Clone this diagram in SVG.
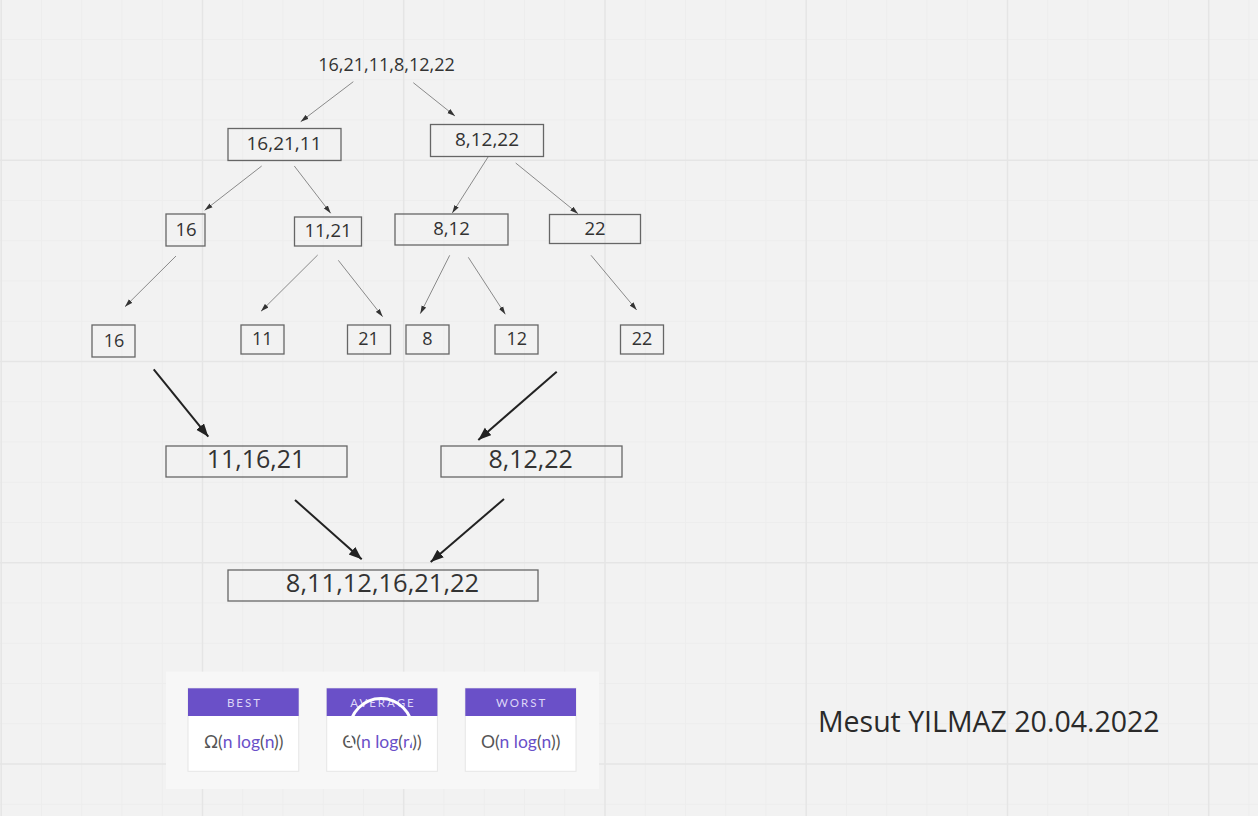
<svg xmlns="http://www.w3.org/2000/svg" width="1258" height="816" viewBox="0 0 1258 816">
<defs>
<style>
.bg{fill:#f2f2f2}
.gmin{stroke:#ededed;stroke-width:1;fill:none}
.gmaj{stroke:#e5e5e5;stroke-width:1.5;fill:none}
.box{fill:none;stroke:#666;stroke-width:1.3}
.t{font-family:"Open Sans","Noto Sans","DejaVu Sans",sans-serif;fill:#333;text-anchor:middle}
.thin{stroke:#8a8a8a;stroke-width:1;fill:none;marker-end:url(#ah)}
.thick{stroke:#222;stroke-width:2;fill:none;marker-end:url(#ahb)}
.hdr{fill:#6a50c8}
.card{fill:#fff;stroke:#e6e6e6;stroke-width:1}
.ht{font-family:Lato,"Open Sans",sans-serif;font-size:11.5px;fill:#ddd6f7;letter-spacing:2px;text-anchor:middle}
.ct{font-family:Lato,"Open Sans",sans-serif;font-size:17.5px;text-anchor:middle}
.g{fill:#555}
.p{fill:#6a50c8}
</style>
<marker id="ah" markerUnits="userSpaceOnUse" markerWidth="9" markerHeight="6" refX="8" refY="3" orient="auto"><path d="M0,0.5 L8,3 L0,5.5 z" fill="#333"/></marker>
<marker id="ahb" markerUnits="userSpaceOnUse" markerWidth="14" markerHeight="11" refX="13" refY="5" orient="auto"><path d="M0,0 L13,5 L0,10 z" fill="#222"/></marker>
</defs>
<rect class="bg" x="0" y="0" width="1258" height="816"/>
<g id="grid">
<path class="gmin" d="M41.5,0V816M81.7,0V816M122,0V816M162.2,0V816M242.7,0V816M283,0V816M323.2,0V816M363.5,0V816M444,0V816M484.2,0V816M524.5,0V816M564.7,0V816M645.2,0V816M685.5,0V816M725.7,0V816M766,0V816M846.5,0V816M886.7,0V816M927,0V816M967.2,0V816M1047.7,0V816M1088,0V816M1128.2,0V816M1168.5,0V816M1249,0V816"/>
<path class="gmin" d="M0,39.6H1258M0,79.8H1258M0,120H1258M0,200.6H1258M0,240.8H1258M0,281H1258M0,321.3H1258M0,401.8H1258M0,442H1258M0,482.3H1258M0,522.5H1258M0,603H1258M0,643.3H1258M0,683.5H1258M0,723.8H1258M0,804.3H1258"/>
<path class="gmaj" d="M1.2,0V816M202.5,0V816M403.7,0V816M605,0V816M806.2,0V816M1007.5,0V816M1208.7,0V816M0,160.3H1258M0,361.6H1258M0,562.8H1258M0,764H1258"/>
</g>
<g id="connectors">
<line class="thin" x1="353.3" y1="81.7" x2="300.7" y2="121.7"/>
<line class="thin" x1="413.3" y1="82.7" x2="455" y2="116"/>
<line class="thin" x1="261.7" y1="166" x2="204.7" y2="210.3"/>
<line class="thin" x1="294.3" y1="166" x2="330.7" y2="213.3"/>
<line class="thin" x1="488.7" y1="156" x2="452.3" y2="213"/>
<line class="thin" x1="515.7" y1="163" x2="578" y2="213.7"/>
<line class="thin" x1="176" y1="256" x2="125" y2="306.7"/>
<line class="thin" x1="317.7" y1="255" x2="261" y2="311.3"/>
<line class="thin" x1="338.3" y1="260.3" x2="382.7" y2="316.7"/>
<line class="thin" x1="449.7" y1="255.3" x2="420.3" y2="313.7"/>
<line class="thin" x1="468.3" y1="257.3" x2="505.3" y2="314.3"/>
<line class="thin" x1="591" y1="255.3" x2="636.7" y2="310"/>
<line class="thick" x1="153.7" y1="369.3" x2="208.3" y2="436.7"/>
<line class="thick" x1="556.7" y1="371.7" x2="478.3" y2="440"/>
<line class="thick" x1="295" y1="500" x2="361.7" y2="559.3"/>
<line class="thick" x1="504" y1="499" x2="430.7" y2="562"/>
</g>
<g id="n-root"><text class="t" x="386.5" y="70.5" font-size="18">16,21,11,8,12,22</text></g>
<g id="n-162111"><rect class="box" x="228" y="128.5" width="113" height="32"/><text class="t" x="284" y="150" font-size="19">16,21,11</text></g>
<g id="n-81222"><rect class="box" x="430.5" y="124.5" width="113" height="32"/><text class="t" x="487" y="146" font-size="19">8,12,22</text></g>
<g id="n-16a"><rect class="box" x="166" y="214" width="39" height="32"/><text class="t" x="186" y="235.7" font-size="18.5">16</text></g>
<g id="n-1121"><rect class="box" x="294.5" y="217" width="67" height="29"/><text class="t" x="328" y="236.5" font-size="18.5">11,21</text></g>
<g id="n-812"><rect class="box" x="395" y="214" width="113" height="31"/><text class="t" x="451.5" y="235.3" font-size="18.5">8,12</text></g>
<g id="n-22a"><rect class="box" x="549.5" y="214.5" width="91" height="29"/><text class="t" x="595" y="235" font-size="18.5">22</text></g>
<g id="n-16b"><rect class="box" x="92" y="325" width="43" height="32"/><text class="t" x="114" y="346.7" font-size="18">16</text></g>
<g id="n-11"><rect class="box" x="241" y="325" width="43" height="29"/><text class="t" x="262.3" y="345.3" font-size="18">11</text></g>
<g id="n-21"><rect class="box" x="347.5" y="325" width="43" height="29"/><text class="t" x="368.5" y="345.3" font-size="18">21</text></g>
<g id="n-8"><rect class="box" x="406" y="325" width="43" height="29"/><text class="t" x="427.5" y="345.3" font-size="18">8</text></g>
<g id="n-12"><rect class="box" x="495" y="325" width="43" height="29"/><text class="t" x="516.7" y="345.3" font-size="18">12</text></g>
<g id="n-22b"><rect class="box" x="620.5" y="325" width="43" height="29"/><text class="t" x="642" y="345.3" font-size="18">22</text></g>
<g id="n-111621"><rect class="box" x="166" y="446" width="181" height="31"/><text class="t" x="256" y="468.3" font-size="25">11,16,21</text></g>
<g id="n-81222m"><rect class="box" x="441" y="446" width="181" height="31"/><text class="t" x="530.7" y="468.3" font-size="25">8,12,22</text></g>
<g id="n-final"><rect class="box" x="228" y="570" width="310" height="31"/><text class="t" x="382.5" y="591.7" font-size="25.5">8,11,12,16,21,22</text></g>
<g id="complexity">
<rect x="166" y="671.7" width="433" height="117.3" fill="#f7f7f7"/>
<g id="c-best"><rect class="card" x="188" y="688.3" width="110.7" height="83"/><rect class="hdr" x="188" y="688.3" width="110.7" height="27.7"/><text class="ht" x="244.5" y="707.3">BEST</text><text class="ct" x="243.7" y="748"><tspan class="g">Ω(</tspan><tspan class="p">n log</tspan><tspan class="g">(</tspan><tspan class="p">n</tspan><tspan class="g">))</tspan></text></g>
<g id="c-avg"><rect class="card" x="326.7" y="688.3" width="110.7" height="83"/><rect class="hdr" x="326.7" y="688.3" width="110.7" height="27.7"/><text class="ht" x="383" y="707.3">AVERAGE</text><text class="ct" x="382" y="748"><tspan class="g">Θ(</tspan><tspan class="p">n log</tspan><tspan class="g">(</tspan><tspan class="p">n</tspan><tspan class="g">))</tspan></text><circle cx="381" cy="730" r="31.5" fill="none" stroke="#fff" stroke-width="3"/></g>
<g id="c-worst"><rect class="card" x="465.3" y="688.3" width="110.7" height="83"/><rect class="hdr" x="465.3" y="688.3" width="110.7" height="27.7"/><text class="ht" x="521.7" y="707.3">WORST</text><text class="ct" x="520.7" y="748"><tspan class="g">O(</tspan><tspan class="p">n log</tspan><tspan class="g">(</tspan><tspan class="p">n</tspan><tspan class="g">))</tspan></text></g>
</g>
<g id="signature"><text class="t" x="988.8" y="732.3" font-size="28.5" style="fill:#2a2a2a">Mesut YILMAZ 20.04.2022</text></g>
</svg>
